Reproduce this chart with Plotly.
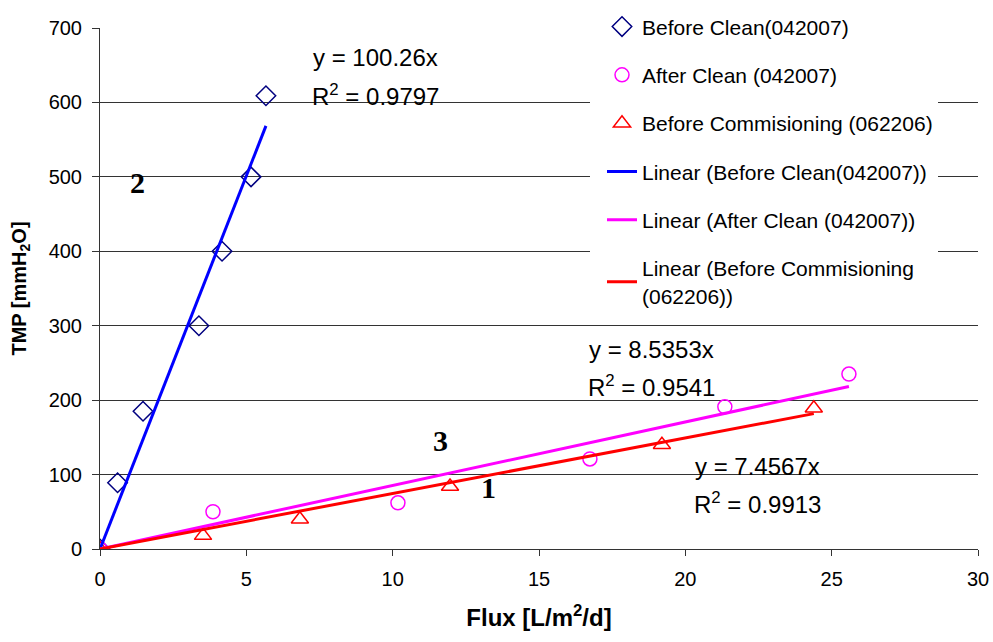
import plotly.graph_objects as go

# Measured flux / TMP pairs
before_clean_flux = [0.0, 0.6, 1.47, 3.38, 4.17, 5.16, 5.67]
before_clean_tmp = [0, 89, 185, 300, 400, 500, 609]

after_clean_flux = [0.0, 3.86, 10.18, 16.74, 21.35, 25.59]
after_clean_tmp = [0, 50, 62, 121, 191, 235]

commission_flux = [0.0, 3.52, 6.83, 11.96, 19.2, 24.39]
commission_tmp = [0, 18, 40, 84, 140, 189]

# Linear trendlines through the origin (slope, R^2)
slope_before, r2_before = 100.26, 0.9797
slope_after, r2_after = 8.5353, 0.9541
slope_comm, r2_comm = 7.4567, 0.9913

x_ticks = [0, 5, 10, 15, 20, 25, 30]
y_ticks = [0, 100, 200, 300, 400, 500, 600, 700]

FONT = "Liberation Sans, Arial, sans-serif"

fig = go.Figure()

fig.add_trace(go.Scatter(
    x=before_clean_flux, y=before_clean_tmp, mode="markers",
    name="Before Clean(042007)",
    marker=dict(symbol="diamond-open", size=15, color="#000080",
                line=dict(width=1.5, color="#000080")),
    legendgroup="a"))
fig.add_trace(go.Scatter(
    x=after_clean_flux, y=after_clean_tmp, mode="markers",
    name="After Clean (042007)",
    marker=dict(symbol="circle-open", size=14, color="#FF00FF",
                line=dict(width=1.5, color="#FF00FF")),
    legendgroup="b"))
fig.add_trace(go.Scatter(
    x=commission_flux, y=commission_tmp, mode="markers",
    name="Before Commisioning (062206)",
    marker=dict(symbol="triangle-up-open", size=15, color="#FF0000",
                line=dict(width=1.5, color="#FF0000")),
    legendgroup="c"))


def trend(xs, slope):
    x_end = max(xs)
    return [0, x_end], [0, slope * x_end]


tx, ty = trend(before_clean_flux, slope_before)
fig.add_trace(go.Scatter(x=tx, y=ty, mode="lines",
                         name="Linear (Before Clean(042007))",
                         line=dict(color="#0000FF", width=3), legendgroup="d"))
tx, ty = trend(after_clean_flux, slope_after)
fig.add_trace(go.Scatter(x=tx, y=ty, mode="lines",
                         name="Linear (After Clean (042007))",
                         line=dict(color="#FF00FF", width=3), legendgroup="e"))
tx, ty = trend(commission_flux, slope_comm)
fig.add_trace(go.Scatter(x=tx, y=ty, mode="lines",
                         name="Linear (Before Commisioning<br>(062206))",
                         line=dict(color="#FF0000", width=3), legendgroup="f"))

eq_font = dict(family=FONT, size=24, color="black")
num_font = dict(family="Liberation Serif, Times New Roman, serif", size=30, color="black")

annotations = [
    dict(x=9.43, y=661, text=f"y = {slope_before}x"),
    dict(x=9.43, y=610, text=f"R<sup>2</sup> = {r2_before}"),
    dict(x=18.86, y=268, text=f"y = {slope_after}x"),
    dict(x=18.86, y=219, text=f"R<sup>2</sup> = {r2_after}"),
    dict(x=22.48, y=111, text=f"y = {slope_comm}x"),
    dict(x=22.48, y=62, text=f"R<sup>2</sup> = {r2_comm}"),
]
for a in annotations:
    a.update(xref="x", yref="y", showarrow=False, font=eq_font)

for lbl, xv, yv in [("2", 1.27, 493), ("3", 11.65, 146), ("1", 13.26, 82)]:
    annotations.append(dict(x=xv, y=yv, xref="x", yref="y", text=f"<b>{lbl}</b>",
                            showarrow=False, font=num_font))

fig.update_layout(
    width=993, height=642,
    margin=dict(l=100, r=15, t=28, b=93, autoexpand=False),
    plot_bgcolor="white", paper_bgcolor="white",
    font=dict(family=FONT, color="black"),
    showlegend=True,
    legend=dict(
        xref="paper", yref="container",
        x=(590 - 100) / 878, y=0.99, xanchor="left", yanchor="top",
        bgcolor="white", borderwidth=0, indentation=12,
        font=dict(family=FONT, size=21, color="black"),
        traceorder="grouped", tracegroupgap=18,
    ),
    annotations=annotations,
)

fig.update_xaxes(
    range=[0, 30], tickvals=x_ticks, ticks="outside", ticklen=6,
    tickcolor="#333", showline=True, linecolor="#333", linewidth=1,
    showgrid=False, zeroline=False, ticklabelstandoff=6,
    tickfont=dict(family=FONT, size=20),
    title=dict(text="<b>Flux [L/m<sup>2</sup>/d]</b>", font=dict(family=FONT, size=24),
               standoff=20),
)
fig.update_yaxes(
    range=[0, 700], tickvals=y_ticks, ticks="outside", ticklen=7,
    tickcolor="#333", showline=True, linecolor="#333", linewidth=1,
    showgrid=True, gridcolor="#333", gridwidth=1, zeroline=False,
    ticklabelstandoff=6,
    tickfont=dict(family=FONT, size=20),
    title=dict(text="<b>TMP [mmH<sub>2</sub>O]</b>", font=dict(family=FONT, size=20),
               standoff=16),
)

fig.write_html("out.html")
